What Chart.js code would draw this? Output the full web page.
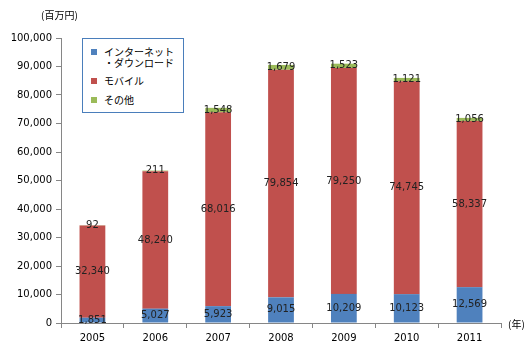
<!DOCTYPE html>
<html>
<head>
<meta charset="utf-8">
<script src="https://cdn.jsdelivr.net/npm/chart.js@4/dist/chart.umd.min.js"></script>
<style>
  body { margin: 0; background: #fff; }
  #wrap { position: relative; width: 530px; height: 360px; }
  #legend {
    position: absolute; left: 82px; top: 38px; width: 102px; height: 75px;
    border: 1px solid #4a7ebb; box-sizing: border-box; background: #fff;
    font: 10px "Noto Sans CJK JP", sans-serif; color: #000;
  }
  #legend .item { position: absolute; left: 8px; line-height: 11px; }
  #legend .sw { position: absolute; left: 0; top: 3px; width: 6px; height: 6px; }
  #legend .tx { position: absolute; left: 13px; top: 0; white-space: nowrap; }
</style>
</head>
<body>
<div id="wrap">
  <canvas id="chart" width="530" height="360"></canvas>
  <div id="legend"></div>
</div>
<script>
const years = ['2005', '2006', '2007', '2008', '2009', '2010', '2011'];
const seriesNames = ['インターネット\n・ダウンロード', 'モバイル', 'その他'];
const internet = [1851, 5027, 5923, 9015, 10209, 10123, 12569];
const mobile = [32340, 48240, 68016, 79854, 79250, 74745, 58337];
const other = [92, 211, 1548, 1679, 1523, 1121, 1056];
const colors = ['#4f81bd', '#c0504d', '#9bbb59'];

const font = 'DejaVu Sans';

// value labels in the middle of each segment
const segLabels = {
    id: 'segLabels',
    afterDatasetsDraw(chart) {
        const ctx = chart.ctx;
        ctx.save();
        ctx.font = '10px "' + font + '"';
        ctx.fillStyle = '#222';
        ctx.textAlign = 'center';
        ctx.textBaseline = 'middle';
        chart.data.datasets.forEach((ds, i) => {
            chart.getDatasetMeta(i).data.forEach((bar, j) => {
                const y = (bar.y + bar.base) / 2;
                ctx.fillText(ds.data[j].toLocaleString('en-US'), bar.x, y);
            });
        });
        // unit labels
        ctx.font = '10px "Noto Sans CJK JP"';
        ctx.fillStyle = '#000';
        ctx.textAlign = 'left';
        ctx.fillText('(百万円)', 41, 15);
        ctx.fillText('(年)', 508, 324);
        ctx.restore();
    }
};

const ctx = document.getElementById('chart').getContext('2d');
const chart = new Chart(ctx, {
    type: 'bar',
    data: {
        labels: years,
        datasets: [
            { label: seriesNames[0], data: internet, backgroundColor: colors[0] },
            { label: seriesNames[1], data: mobile, backgroundColor: colors[1] },
            { label: seriesNames[2], data: other, backgroundColor: colors[2] }
        ]
    },
    options: {
        responsive: false,
        animation: false,
        layout: { padding: { top: 38, right: 29, left: 0, bottom: 0 } },
        datasets: { bar: { barPercentage: 0.41, categoryPercentage: 1 } },
        scales: {
            x: {
                stacked: true,
                afterFit(s) { s.height = 37; },
                border: { color: '#868686' },
                grid: { drawOnChartArea: false, tickLength: 5, color: '#868686', offset: true },
                ticks: { color: '#000', font: { family: font, size: 10 }, padding: 4 }
            },
            y: {
                stacked: true,
                min: 0, max: 100000,
                afterFit(s) { s.width = 61; },
                border: { color: '#868686' },
                grid: { drawOnChartArea: false, tickLength: 5, color: '#868686' },
                ticks: {
                    stepSize: 10000, color: '#000', padding: 4,
                    font: { family: font, size: 10 },
                    callback: v => v.toLocaleString('en-US')
                }
            }
        },
        plugins: {
            legend: { display: false },
            tooltip: { enabled: false }
        }
    },
    plugins: [segLabels]
});

// legend box inside the plot
const tops = [7, 36, 55];
const legend = document.getElementById('legend');
seriesNames.forEach((name, i) => {
    const item = document.createElement('div');
    item.className = 'item';
    item.style.top = tops[i] + 'px';
    const sw = document.createElement('div');
    sw.className = 'sw';
    sw.style.background = colors[i];
    const tx = document.createElement('div');
    tx.className = 'tx';
    tx.innerHTML = name.replace('\n', '<br>');
    item.appendChild(sw);
    item.appendChild(tx);
    legend.appendChild(item);
});
</script>
</body>
</html>
